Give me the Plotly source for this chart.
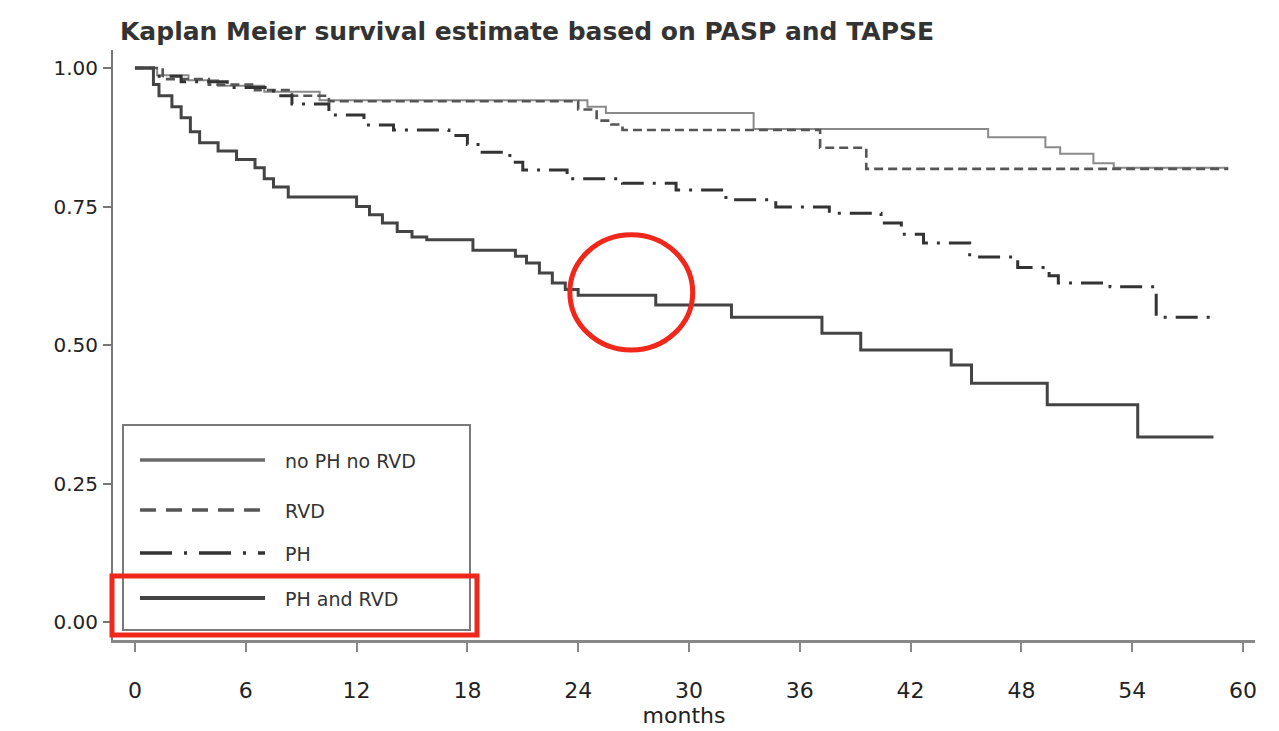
import plotly.graph_objects as go

# ---- Kaplan-Meier step data (event time in months, survival after the step) ----
series_names = ["no PH no RVD", "RVD", "PH", "PH and RVD"]

months_no_ph_no_rvd = [0, 1.2, 2.9, 4.5, 7.0, 10.0, 24.5, 25.5, 33.5, 46.2, 49.3, 50.1, 51.9, 53.0, 59.2]
surv_no_ph_no_rvd = [1.0, 0.987, 0.978, 0.968, 0.957, 0.942, 0.93, 0.919, 0.89, 0.875, 0.857, 0.845, 0.828, 0.82, 0.82]

months_rvd = [0, 1.5, 4.0, 6.5, 8.5, 10.5, 24.0, 25.0, 25.8, 26.4, 37.1, 39.6, 59.2]
surv_rvd = [1.0, 0.98, 0.97, 0.96, 0.95, 0.94, 0.925, 0.905, 0.898, 0.888, 0.856, 0.818, 0.818]

months_ph = [0, 1.0, 2.5, 5.0, 7.5, 8.5, 10.5, 12.4, 14.0, 17.0,
             18.0, 18.8, 20.3, 21.0, 23.4, 26.4, 29.3, 32.0, 34.7, 37.6,
             40.4, 41.5, 42.7, 45.2, 47.8, 49.5, 50.0, 52.8, 55.3, 58.5]
surv_ph = [1.0, 0.985, 0.975, 0.965, 0.95, 0.935, 0.915, 0.897, 0.888, 0.878,
           0.862, 0.848, 0.83, 0.816, 0.80, 0.792, 0.78, 0.762, 0.749, 0.738,
           0.72, 0.70, 0.684, 0.659, 0.64, 0.625, 0.612, 0.605, 0.55, 0.55]

months_ph_rvd = [0, 1.0, 1.3, 2.0, 2.5, 3.0, 3.5, 4.5, 5.5, 6.5,
                 7.0, 7.5, 8.3, 12.0, 12.7, 13.4, 14.2, 15.0, 15.8, 18.3,
                 20.6, 21.2, 21.9, 22.6, 23.3, 24.0, 28.2, 32.3, 37.2, 39.3,
                 44.2, 45.3, 49.4, 54.3, 58.4]
surv_ph_rvd = [1.0, 0.97, 0.95, 0.93, 0.91, 0.885, 0.865, 0.85, 0.835, 0.82,
               0.80, 0.785, 0.767, 0.75, 0.735, 0.72, 0.705, 0.695, 0.69, 0.671,
               0.66, 0.648, 0.63, 0.612, 0.60, 0.59, 0.572, 0.55, 0.521, 0.491,
               0.464, 0.431, 0.392, 0.334, 0.334]

x_ticks = [0, 6, 12, 18, 24, 30, 36, 42, 48, 54, 60]
y_ticks = [0.0, 0.25, 0.5, 0.75, 1.0]
y_tick_labels = ["0.00", "0.25", "0.50", "0.75", "1.00"]

# ---- styling per group (curve dash, and the longer dash used in the key) ----
styles = [
    dict(color="#8a8a8a", width=2.0, dash="solid", key_color="#6a6a6a", key_dash="solid", key_width=3.5),
    dict(color="#555555", width=2.6, dash="9px,5px", key_color="#555555", key_dash="16px,10px", key_width=3.5),
    dict(color="#333333", width=3.0, dash="22px,9px,3px,9px", key_color="#333333",
         key_dash="32px,12px,3px,12px", key_width=3.5),
    dict(color="#444444", width=3.0, dash="solid", key_color="#444444", key_dash="solid", key_width=4.0),
]
data = [
    (months_no_ph_no_rvd, surv_no_ph_no_rvd),
    (months_rvd, surv_rvd),
    (months_ph, surv_ph),
    (months_ph_rvd, surv_ph_rvd),
]

W, H = 1279, 731
M_L, M_R, M_T, M_B = 113, 24, 50, 91
PW, PH_ = W - M_L - M_R, H - M_T - M_B


def px_x(px):
    return (px - M_L) / PW


def px_y(py):
    return (H - M_B - py) / PH_


fig = go.Figure()
for name, (t, s), st in zip(series_names, data, styles):
    fig.add_trace(go.Scatter(
        x=t, y=s, mode="lines", name=name, line_shape="hv",
        line=dict(color=st["color"], width=st["width"], dash=st["dash"]),
        showlegend=False,
    ))

font_main = "DejaVu Sans, Arial, sans-serif"

shapes = []
annotations = []

# key box drawn in paper space
shapes.append(dict(type="rect", xref="paper", yref="paper",
                   x0=px_x(123), x1=px_x(470), y0=px_y(630), y1=px_y(425),
                   line=dict(color="#7a7a7a", width=2), fillcolor="white", layer="above"))
legend_rows = [460, 510, 553, 598]
for name, st, row in zip(series_names, styles, legend_rows):
    shapes.append(dict(type="line", xref="paper", yref="paper",
                       x0=px_x(140), x1=px_x(265), y0=px_y(row), y1=px_y(row),
                       line=dict(color=st["key_color"], width=st["key_width"], dash=st["key_dash"]),
                       layer="above"))
    annotations.append(dict(xref="paper", yref="paper", x=px_x(283), y=px_y(row + 1),
                            text=name, showarrow=False, xanchor="left", yanchor="middle",
                            font=dict(family=font_main, size=19, color="#333333")))

# highlight marks in red
shapes.append(dict(type="circle", xref="x", yref="y",
                   x0=23.55, x1=30.2, y0=0.491, y1=0.699,
                   line=dict(color="#f0281c", width=5), layer="above"))
shapes.append(dict(type="rect", xref="paper", yref="paper",
                   x0=px_x(112), x1=px_x(477), y0=px_y(635), y1=px_y(576),
                   line=dict(color="#f0281c", width=5), layer="above"))

fig.update_layout(
    width=W, height=H,
    margin=dict(l=M_L, r=M_R, t=M_T, b=M_B),
    paper_bgcolor="white", plot_bgcolor="white",
    title=dict(text="<b>Kaplan Meier survival estimate based on PASP and TAPSE</b>",
               x=120 / W, xanchor="left", y=1 - 31 / H, yanchor="middle",
               font=dict(family=font_main, size=25, color="#333333")),
    shapes=shapes,
    annotations=annotations,
    showlegend=False,
)
fig.update_xaxes(
    range=[-1.19, 60.65], tickvals=x_ticks, ticktext=[str(v) for v in x_ticks],
    showline=True, linecolor="#888888", linewidth=3, mirror=False,
    ticks="outside", ticklen=9, tickwidth=2, tickcolor="#888888",
    showgrid=False, zeroline=False, ticklabelstandoff=20, automargin=False,
    tickfont=dict(family=font_main, size=22, color="#222222"),
    title=dict(text="months", standoff=6,
               font=dict(family=font_main, size=22, color="#222222")),
)
fig.update_yaxes(
    range=[-0.0325, 1.0325], tickvals=y_ticks, ticktext=y_tick_labels,
    showline=True, linecolor="#777777", linewidth=2,
    ticks="outside", ticklen=8, tickwidth=2, tickcolor="#777777",
    showgrid=False, zeroline=False, ticklabelstandoff=1, automargin=False,
    tickfont=dict(family=font_main, size=20, color="#222222"),
)

fig.write_html("out.html")
